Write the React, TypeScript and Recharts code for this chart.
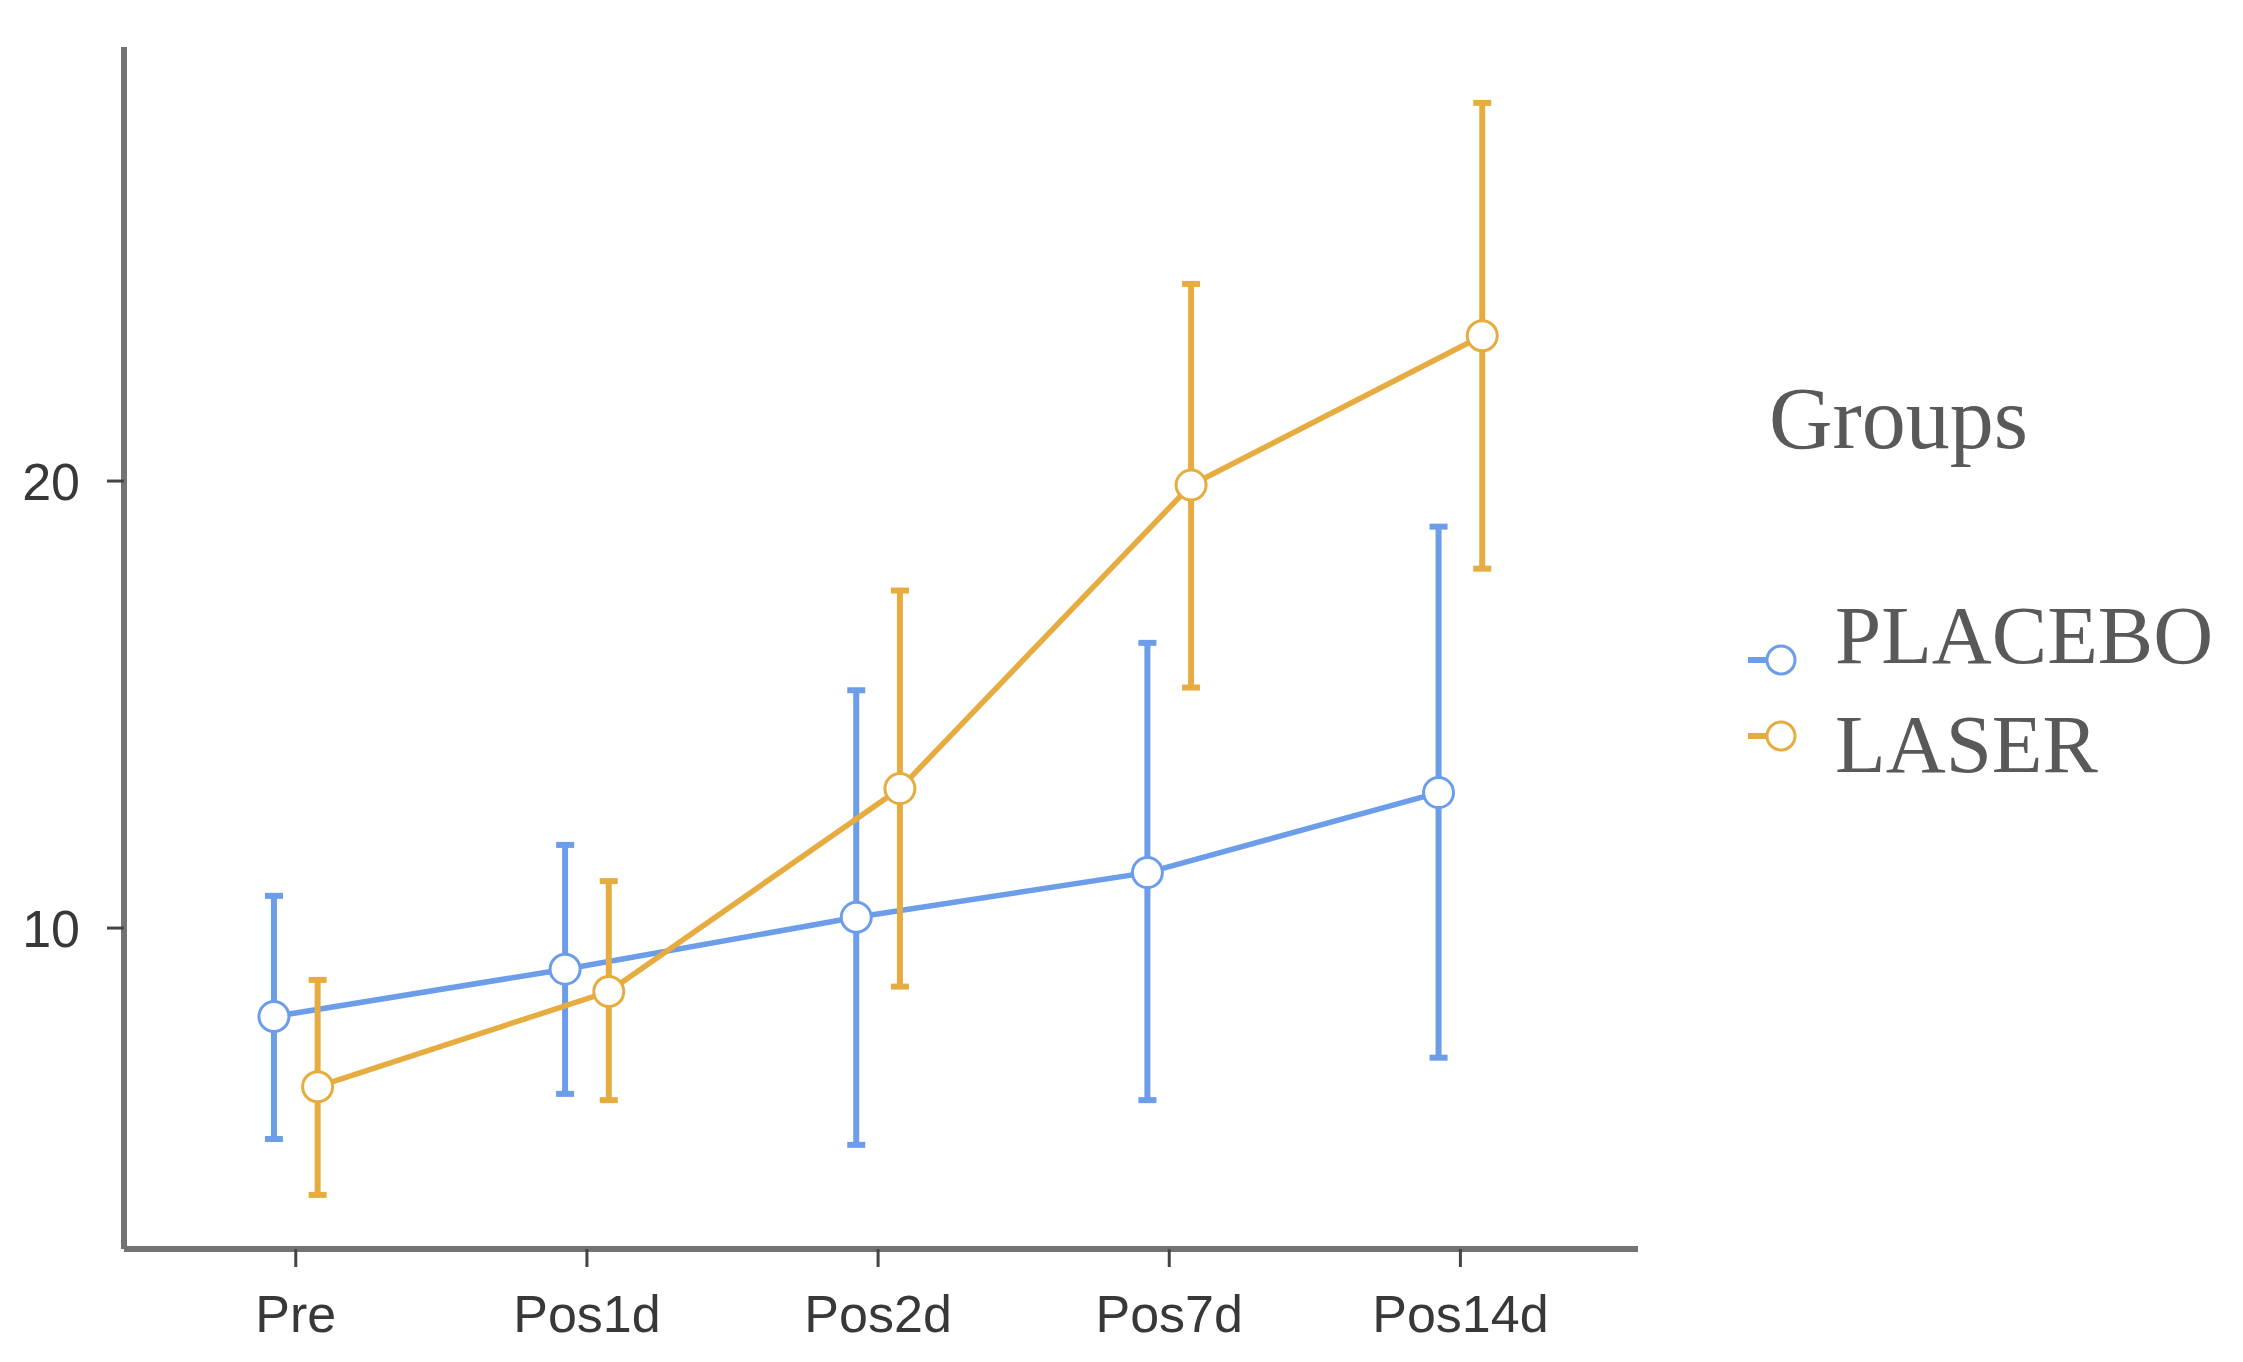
import { LineChart, Line, XAxis, YAxis, ErrorBar } from "recharts";

const categories = ["Pre", "Pos1d", "Pos2d", "Pos7d", "Pos14d"];

const placeboMean = [8.02, 9.08, 10.24, 11.24, 13.03];
const placeboLower = [5.28, 6.29, 5.15, 6.15, 7.1];
const placeboUpper = [10.72, 11.86, 15.32, 16.38, 18.98];

const laserMean = [6.45, 8.58, 13.12, 19.91, 23.25];
const laserLower = [4.03, 6.15, 8.69, 15.38, 18.04];
const laserUpper = [8.84, 11.05, 17.55, 24.41, 28.46];

const yTicks = [10, 20];

const BLUE = "#6B9DE8";
const ORANGE = "#E6AC40";
const DODGE = 0.075;

const build = (mean: number[], lo: number[], hi: number[], shift: number) =>
  categories.map((c, i) => ({
    x: i + shift,
    name: c,
    y: mean[i],
    err: [mean[i] - lo[i], hi[i] - mean[i]],
  }));

const placeboData = build(placeboMean, placeboLower, placeboUpper, -DODGE);
const laserData = build(laserMean, laserLower, laserUpper, DODGE);

const legendItems = [
  { label: "PLACEBO", color: BLUE, textY: 663, iconY: 660 },
  { label: "LASER", color: ORANGE, textY: 772, iconY: 736 },
];

const tickStyle = {
  fontSize: 52,
  fill: "#383838",
  fontFamily: "Liberation Sans, Arial, sans-serif",
};

export default function App() {
  return (
    <div
      style={{
        position: "absolute",
        left: 0,
        top: 0,
        width: 2243,
        height: 1362,
        background: "#fff",
      }}
    >
      <LineChart
        width={2243}
        height={1362}
        margin={{ top: 47, right: 605, bottom: 0, left: 0 }}
      >
        <XAxis
          type="number"
          dataKey="x"
          domain={[-0.59, 4.61]}
          ticks={[0, 1, 2, 3, 4]}
          tickFormatter={(v: number) => categories[Math.round(v)]}
          allowDataOverflow
          height={113}
          stroke="#737373"
          strokeWidth={6}
          tickLine={{ stroke: "#444", strokeWidth: 3 }}
          tickSize={18}
          tickMargin={28}
          tick={tickStyle}
        />
        <YAxis
          type="number"
          domain={[2.82, 29.71]}
          ticks={yTicks}
          allowDataOverflow
          width={124}
          stroke="#737373"
          strokeWidth={6}
          tickLine={{ stroke: "#444", strokeWidth: 3 }}
          tickSize={17}
          tickMargin={27}
          tick={tickStyle}
        />
        <Line
          data={placeboData}
          dataKey="y"
          name="PLACEBO"
          type="linear"
          stroke={BLUE}
          strokeWidth={5.5}
          dot={{ r: 15, fill: "#fff", stroke: BLUE, strokeWidth: 3 }}
          activeDot={false}
          isAnimationActive={false}
        >
          <ErrorBar
            dataKey="err"
            direction="y"
            width={9}
            stroke={BLUE}
            strokeWidth={6}
            isAnimationActive={false}
          />
        </Line>
        <Line
          data={laserData}
          dataKey="y"
          name="LASER"
          type="linear"
          stroke={ORANGE}
          strokeWidth={5.5}
          dot={{ r: 15, fill: "#fff", stroke: ORANGE, strokeWidth: 3 }}
          activeDot={false}
          isAnimationActive={false}
        >
          <ErrorBar
            dataKey="err"
            direction="y"
            width={9}
            stroke={ORANGE}
            strokeWidth={6}
            isAnimationActive={false}
          />
        </Line>
      </LineChart>

      {/* legend */}
      <svg
        width={2243}
        height={1362}
        style={{ position: "absolute", left: 0, top: 0, pointerEvents: "none" }}
      >
        <text
          x={1769}
          y={448}
          fontSize={88}
          fill="#595959"
          fontFamily="Liberation Serif, Times New Roman, serif"
        >
          Groups
        </text>
        {legendItems.map((it) => (
          <g key={it.label}>
            <line
              x1={1748}
              x2={1767}
              y1={it.iconY}
              y2={it.iconY}
              stroke={it.color}
              strokeWidth={6}
            />
            <circle
              cx={1781}
              cy={it.iconY}
              r={14}
              fill="#fff"
              stroke={it.color}
              strokeWidth={3}
            />
            <text
              x={1835}
              y={it.textY}
              fontSize={83}
              fill="#595959"
              fontFamily="Liberation Serif, Times New Roman, serif"
            >
              {it.label}
            </text>
          </g>
        ))}
      </svg>
    </div>
  );
}
